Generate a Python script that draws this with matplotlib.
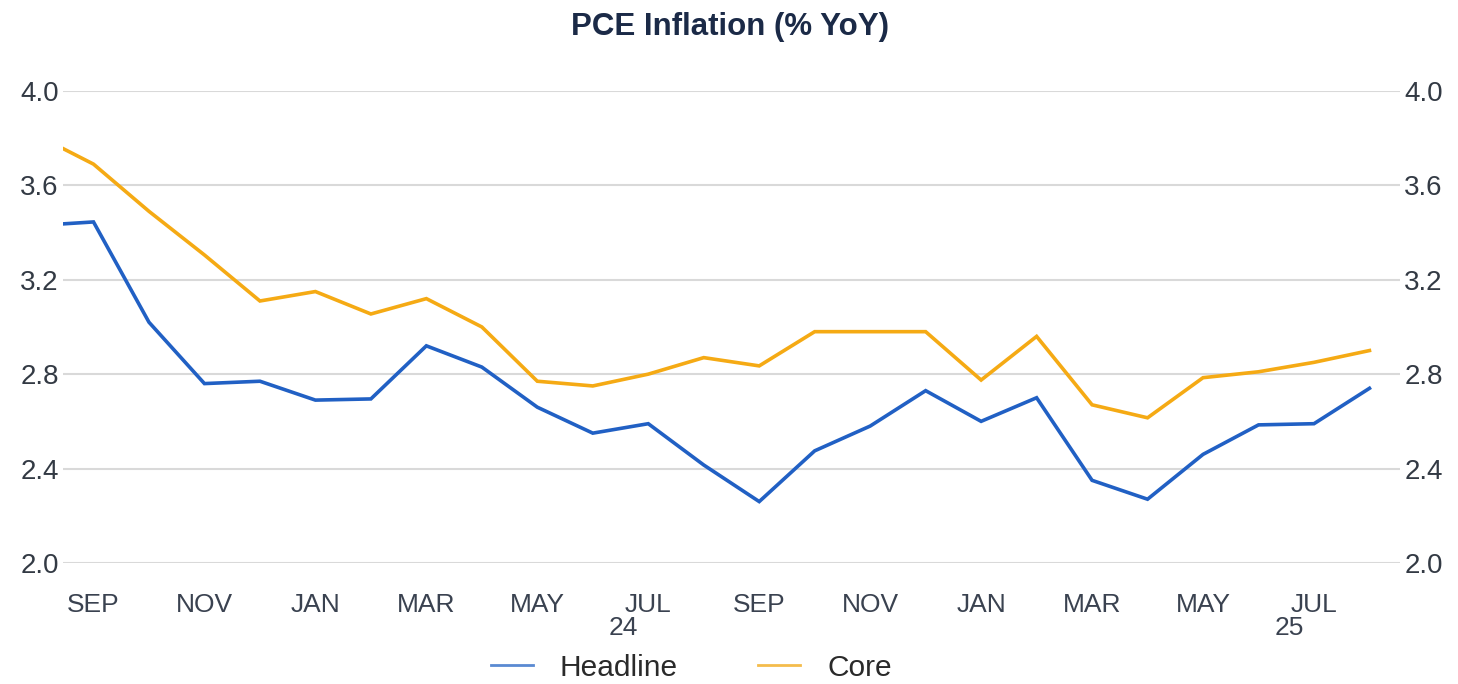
import matplotlib.pyplot as plt
import matplotlib.transforms as mtransforms
import numpy as np

plt.rcParams['font.family'] = ['Liberation Sans', 'DejaVu Sans']

# Aug 2023 .. Aug 2025 (first point sits just left of the visible range)
months = ['AUG', 'SEP', 'OCT', 'NOV', 'DEC', 'JAN', 'FEB', 'MAR', 'APR', 'MAY', 'JUN', 'JUL',
          'AUG', 'SEP', 'OCT', 'NOV', 'DEC', 'JAN', 'FEB', 'MAR', 'APR', 'MAY', 'JUN', 'JUL', 'AUG']
headline = [3.43, 3.445, 3.02, 2.76, 2.77, 2.69, 2.695, 2.92, 2.83, 2.66, 2.55, 2.59,
            2.415, 2.26, 2.475, 2.58, 2.73, 2.60, 2.70, 2.35, 2.27, 2.46, 2.585, 2.59, 2.74]
core = [3.81, 3.69, 3.49, 3.305, 3.11, 3.15, 3.055, 3.12, 3.00, 2.77, 2.75, 2.80,
        2.87, 2.835, 2.98, 2.98, 2.98, 2.775, 2.96, 2.67, 2.615, 2.785, 2.81, 2.85, 2.90]
year_labels = {11: '24', 23: '25'}

x = np.arange(len(months)) - 1
blue = '#2160c4'
orange = '#f5aa14'
txt = '#333a44'

fig = plt.figure(figsize=(14.58, 6.84), dpi=100)
ax = fig.add_axes([0.0432, 0.177, 0.9170, 0.690])

ax.plot(x, headline, color=blue, lw=2.6, label='Headline', solid_joinstyle='miter')
ax.plot(x, core, color=orange, lw=2.6, label='Core', solid_joinstyle='miter')

ax.set_xlim(-0.55, 23.55)
ax.set_ylim(2.0, 4.0)
yt = [2.0, 2.4, 2.8, 3.2, 3.6, 4.0]
ax.set_yticks(yt)
ax.set_yticklabels(['%.1f' % v for v in yt])
ax.grid(axis='y', color='#d9d9d9', lw=1.5)
ax.set_axisbelow(True)
for s in ax.spines.values():
    s.set_visible(False)

ax2 = ax.twinx()
ax2.set_ylim(ax.get_ylim())
ax2.set_yticks(yt)
ax2.set_yticklabels(['%.1f' % v for v in yt])
for s in ax2.spines.values():
    s.set_visible(False)

for a in (ax, ax2):
    a.tick_params(axis='y', length=0, labelsize=20, colors=txt, pad=3)

xt = list(range(0, 24, 2))
ax.set_xticks(xt)
ax.set_xticklabels([months[i + 1] for i in xt])
ax.tick_params(axis='x', length=0, labelsize=19, colors='#3a4250', pad=22)

trans = mtransforms.blended_transform_factory(ax.transData, ax.transAxes)
for i, lab in year_labels.items():
    ax.text(x[i] - 0.45, -0.138, lab, transform=trans, ha='center', va='center',
            fontsize=19, color='#3a4250')

fig.text(0.501, 0.9605, 'PCE Inflation (% YoY)', ha='center', va='center',
         fontsize=22.5, fontweight='bold', color='#1b2a47')

leg = ax.legend(loc='center', bbox_to_anchor=(0.470, -0.222), ncol=2, frameon=False,
                fontsize=21.5, handlelength=1.4, columnspacing=2.7, handletextpad=0.9)
for line, c in zip(leg.get_lines(), ['#5a8ad2', '#f4bc4c']):
    line.set_linewidth(2)
    line.set_color(c)
for t in leg.get_texts():
    t.set_color('#2a2a2a')

fig.savefig('out.png', dpi=100)
